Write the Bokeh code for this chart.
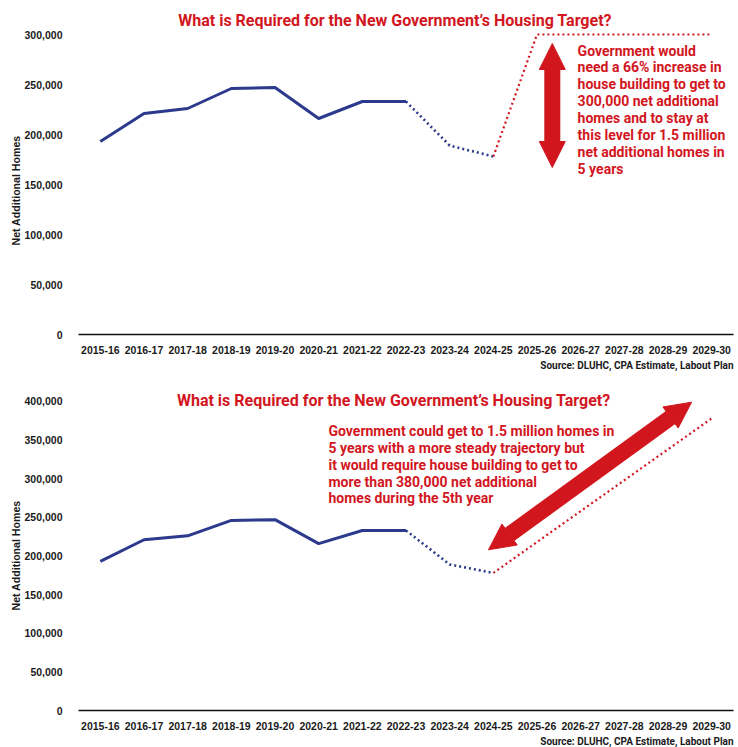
from bokeh.plotting import figure
from bokeh.layouts import column
from bokeh.models import Range1d, FixedTicker, Label, Arrow, NormalHead, NumeralTickFormatter, Title
from bokeh.embed import file_html
from bokeh.resources import INLINE

years = ["2015-16", "2016-17", "2017-18", "2018-19", "2019-20", "2020-21", "2021-22",
         "2022-23", "2023-24", "2024-25", "2025-26", "2026-27", "2027-28", "2028-29", "2029-30"]
actual = [193000, 221000, 226000, 246000, 247000, 216000, 233000, 233000]
estimate = [233000, 189000, 178000]
target_flat = [178000, 300000, 300000, 300000, 300000, 300000]
target_steady = [178000, 218000, 258000, 298000, 338000, 378000]

TITLE = "What is Required for the New Government\u2019s Housing Target?"
NOTE1 = ("Government would\nneed a 66% increase in\nhouse building to get to\n300,000 net additional\n"
         "homes and to stay at\nthis level for 1.5 million\nnet additional homes in\n5 years")
NOTE2 = ("Government could get to 1.5 million homes in\n5 years with a more steady trajectory but\n"
         "it would require house building to get to\nmore than 380,000 net additional\nhomes during the 5th year")
SOURCE = "Source: DLUHC, CPA Estimate, Labout Plan"

NAVY = "#2b3a8c"
RED = "#d2161e"
COND = "Roboto"
TICKF = "Liberation Sans"

idx = list(range(len(years)))


def make(height, ymax, yticks, top_border, bottom_border, ylab_offset):
    p = figure(width=738, height=height, output_backend="svg", toolbar_location=None,
               x_range=Range1d(-0.5, 14.5), y_range=Range1d(0, ymax),
               min_border_left=78, min_border_right=5, min_border_top=top_border,
               min_border_bottom=bottom_border)
    p.outline_line_color = None
    p.grid.visible = False
    p.xaxis.ticker = FixedTicker(ticks=idx)
    p.xaxis.major_label_overrides = {i: y for i, y in enumerate(years)}
    p.xaxis.major_tick_line_color = None
    p.xaxis.minor_tick_line_color = None
    p.xaxis.axis_line_color = "#111111"
    p.xaxis.axis_line_width = 1.6
    p.xaxis.major_label_standoff = 5
    p.yaxis.ticker = FixedTicker(ticks=yticks)
    p.yaxis.formatter = NumeralTickFormatter(format="0,0")
    p.yaxis.axis_line_color = None
    p.yaxis.major_tick_line_color = None
    p.yaxis.minor_tick_line_color = None
    p.yaxis.major_label_standoff = 10
    for ax in (p.xaxis[0], p.yaxis[0]):
        ax.major_label_text_font = TICKF
        ax.major_label_text_font_style = "bold"
        ax.major_label_text_font_size = "10.5px"
        ax.major_label_text_color = "#1a1a1a"
    p.add_layout(Title(text="Net Additional Homes", align="left", offset=ylab_offset,
                       text_font=TICKF, text_font_style="bold", text_font_size="10.6px",
                       text_color="#1a1a1a", standoff=0), "left")
    p.add_layout(Title(text=SOURCE, align="right", offset=0,
                       text_font=COND, text_font_style="bold", text_font_size="10px",
                       text_color="#1a1a1a", standoff=2), "below")
    p.line(idx[:8], actual, line_color=NAVY, line_width=3)
    p.line(idx[7:10], estimate, line_color=NAVY, line_width=2.6, line_dash="2 3")
    return p


def title_label(p, x, y):
    p.add_layout(Label(x=x, y=y, text=TITLE, text_align="center", text_baseline="middle",
                       text_font=COND, text_font_style="bold", text_font_size="16px",
                       text_color=RED))


def arrow(p, x0, y0, x1, y1):
    p.add_layout(Arrow(start=NormalHead(size=26, fill_color=RED, line_color=RED),
                       end=NormalHead(size=26, fill_color=RED, line_color=RED),
                       x_start=x0, y_start=y0, x_end=x1, y_end=y1,
                       line_color=RED, line_width=16))


def note(p, x, y, text):
    p.add_layout(Label(x=x, y=y, text=text, text_align="left", text_baseline="top",
                       text_font=COND, text_font_style="bold", text_font_size="14px",
                       text_line_height=1.06, text_color=RED))


# ---------- top chart ----------
p1 = make(375, 334000, [0, 50000, 100000, 150000, 200000, 250000, 300000], 0, 41, 89)
p1.line(idx[9:], target_flat, line_color=RED, line_width=2.2, line_dash="2 3")
title_label(p1, 6.75, 314000)
arrow(p1, 10.35, 167000, 10.35, 291000)
note(p1, 10.93, 292000, NOTE1)

# ---------- bottom chart ----------
p2 = make(372, 420600, [0, 50000, 100000, 150000, 200000, 250000, 300000, 350000, 400000], 10, 35, 100)
p2.line(idx[9:], target_steady, line_color=RED, line_width=2.2, line_dash="2 3")
title_label(p2, 6.72, 401300)
arrow(p2, 8.89, 208000, 13.54, 399000)
note(p2, 5.225, 372500, NOTE2)

layout = column(p1, p2, spacing=0)
open("out.html", "w").write(file_html(layout, INLINE))
